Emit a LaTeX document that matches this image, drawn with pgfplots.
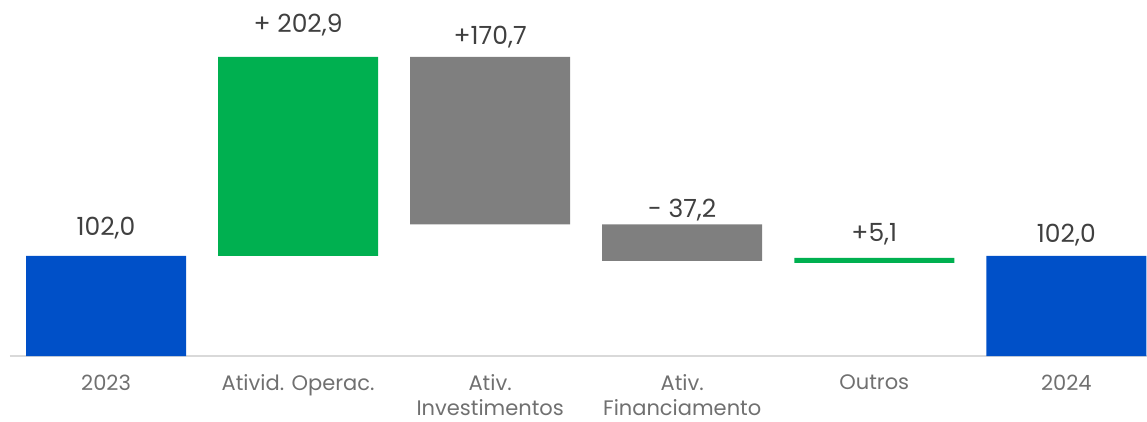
\documentclass[border=0pt]{standalone}
\usepackage{pgfplots}
\pgfplotsset{compat=1.18}
\usepackage{fontspec}
\setmainfont{Poppins}
\definecolor{cblue}{HTML}{0050C8}
\definecolor{cgreen}{HTML}{00B050}
\definecolor{cgray}{HTML}{7F7F7F}
\definecolor{valtext}{HTML}{404040}
\definecolor{cattext}{HTML}{707070}
\tikzset{val/.style={font=\fontsize{25}{28}\selectfont, text=valtext}}
\begin{document}
\begin{tikzpicture}[x=1pt,y=1pt]
\useasboundingbox (0,0) rectangle (1147,421);
\begin{axis}[
  at={(10pt,65pt)}, anchor=south west,
  scale only axis, width=1137pt, height=356pt,
  ybar stacked, bar width=160pt,
  xmin=-0.5, xmax=5.42, ymin=0, ymax=363,
  axis x line*=bottom, axis y line=none,
  x axis line style={draw=black!15, line width=2pt, -},
  xtick={0,1,2,3,4,5}, major tick length=0pt,
  xticklabels={2023,{Ativid. Operac.},{Ativ.\\Investimentos},{Ativ.\\Financiamento},Outros,2024},
  xticklabel style={align=center, font=\fontsize{21}{25}\selectfont, text=cattext, yshift=-18pt, inner sep=0.5pt},
  clip=false,
]
\addplot[draw=none, fill=none] coordinates {(0,0) (1,102) (2,134.2) (3,97) (4,95) (5,0)};
\addplot[draw=none, fill=cblue] coordinates {(0,102) (1,0) (2,0) (3,0) (4,0) (5,102)};
\addplot[draw=none, fill=cgreen] coordinates {(0,0) (1,202.9) (2,0) (3,0) (4,5.1) (5,0)};
\addplot[draw=none, fill=cgray] coordinates {(0,0) (1,0) (2,170.7) (3,37.2) (4,0) (5,0)};
\node[val] at (axis cs:0,130.6) {102,0};
\node[val] at (axis cs:1,337.8) {+ 202,9};
\node[val] at (axis cs:2,325.5) {+170,7};
\node[val] at (axis cs:3,149) {- 37,2};
\node[val] at (axis cs:4,124.5) {+5,1};
\node[val] at (axis cs:5,123.5) {102,0};
\end{axis}
\end{tikzpicture}
\end{document}
